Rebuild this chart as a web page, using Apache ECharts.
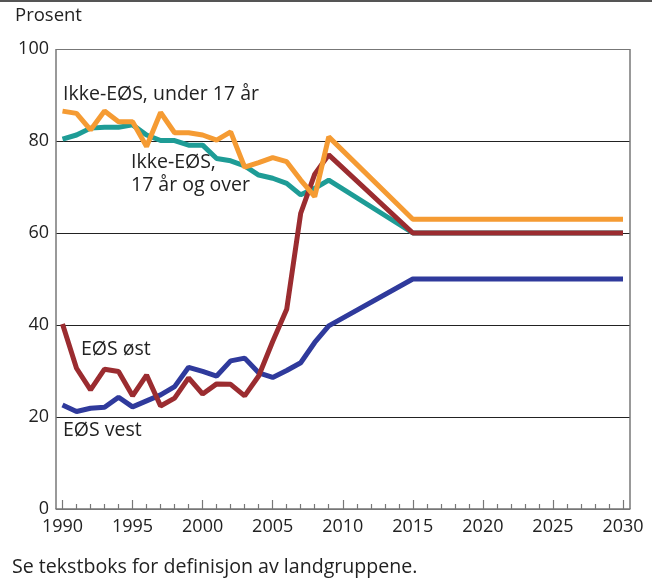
<!DOCTYPE html>
<html>
<head>
<meta charset="utf-8">
<script src="https://cdn.jsdelivr.net/npm/echarts@6/dist/echarts.min.js"></script>
<style>
  html, body { margin: 0; padding: 0; background: #fff; }
  #main { width: 658px; height: 581px; }
</style>
</head>
<body>
<div id="main"></div>
<script>
// data
var yearsHist = [1990, 1991, 1992, 1993, 1994, 1995, 1996, 1997, 1998, 1999,
  2000, 2001, 2002, 2003, 2004, 2005, 2006, 2007, 2008, 2009]
var yearsProj = [2015, 2030]

var ikkeUnder17 = [86.5, 86.0, 82.4, 86.5, 84.2, 84.2, 78.8, 86.2, 81.8, 81.8,
  81.3, 80.2, 82.0, 74.3, 75.3, 76.4, 75.5, 71.5, 67.9, 80.9]
var ikkeUnder17Proj = [63, 63]

var ikkeOver17 = [80.4, 81.3, 82.8, 83.0, 83.0, 83.5, 81.3, 80.1, 80.1, 79.1,
  79.1, 76.2, 75.7, 74.6, 72.6, 71.9, 70.8, 68.3, 69.7, 71.5]
var ikkeOver17Proj = [60, 60]

var eosOst = [40.2, 30.6, 25.9, 30.4, 29.9, 24.6, 29.1, 22.4, 24.1, 28.5,
  25.0, 27.2, 27.1, 24.6, 28.9, 36.4, 43.4, 64.3, 72.8, 77.0]
var eosOstProj = [60, 60]

var eosVest = [22.6, 21.2, 21.9, 22.1, 24.3, 22.2, 23.5, 24.8, 26.6, 30.8,
  29.9, 28.9, 32.2, 32.8, 29.6, 28.6, 30.1, 31.8, 36.2, 39.8]
var eosVestProj = [50, 50]

function pairs(hist, proj) {
  var out = yearsHist.map(function (y, i) { return [y, hist[i]] })
  yearsProj.forEach(function (y, i) { out.push([y, proj[i]]) })
  return out
}

var font = 'Open Sans'
var myChart = echarts.init(document.getElementById('main'), null, { renderer: 'canvas' })

function lineSeries(name, color, hist, proj) {
  return {
    name: name,
    type: 'line',
    xAxisIndex: 0,
    yAxisIndex: 0,
    showSymbol: false,
    symbol: 'none',
    lineStyle: { color: color, width: 5 },
    data: pairs(hist, proj)
  }
}

var option = {
  animation: false,
  backgroundColor: '#fff',
  textStyle: { fontFamily: font },
  grid: [
    // plot area for the lines
    { left: 62.5, right: 35, top: 49, bottom: 72, show: false },
    // outer frame with the y axis and gridlines
    { left: 56, right: 28, top: 49, bottom: 72, show: false }
  ],
  xAxis: [
    {
      gridIndex: 0,
      type: 'value',
      min: 1990,
      max: 2030,
      interval: 5,
      axisLine: { show: false },
      axisTick: { show: true, inside: true, length: 9, lineStyle: { color: '#777', width: 1.2 } },
      minorTick: { show: true, splitNumber: 5, length: 5, lineStyle: { color: '#777', width: 1.2 } },
      axisLabel: {
        color: '#222', fontSize: 18, fontFamily: font, margin: 9,
        formatter: function (v) { return String(v) }
      },
      splitLine: { show: false }
    },
    {
      gridIndex: 1,
      type: 'value',
      min: 0,
      max: 1,
      interval: 1,
      axisLine: { show: true, onZero: false, lineStyle: { color: '#777', width: 1.5 } },
      axisTick: { show: false },
      axisLabel: { show: false },
      splitLine: { show: true, lineStyle: { color: '#777', width: 1.5 } }
    }
  ],
  yAxis: [
    {
      gridIndex: 0,
      type: 'value',
      min: 0,
      max: 100,
      show: false
    },
    {
      gridIndex: 1,
      type: 'value',
      min: 0,
      max: 100,
      interval: 20,
      axisLine: { show: false },
      axisTick: { show: false },
      axisLabel: { color: '#222', fontSize: 18, fontFamily: font, margin: 7 },
      splitLine: { show: true, lineStyle: { color: ['#777', '#222', '#222', '#222', '#222', '#777'], width: 1 } }
    }
  ],
  series: [
    lineSeries('EØS vest', '#2f3a9c', eosVest, eosVestProj),
    lineSeries('Ikke-EØS, 17 år og over', '#1e9c96', ikkeOver17, ikkeOver17Proj),
    lineSeries('EØS øst', '#9b2c30', eosOst, eosOstProj),
    lineSeries('Ikke-EØS, under 17 år', '#f59b33', ikkeUnder17, ikkeUnder17Proj)
  ],
  graphic: [
    { type: 'line', shape: { x1: 0, y1: 1, x2: 652, y2: 1 }, style: { stroke: '#555', lineWidth: 2 } },
    { type: 'text', left: 15, top: 6, style: { text: 'Prosent', font: '18.5px "Open Sans"', fill: '#222' } },
    { type: 'text', left: 63, top: 84, style: { text: 'Ikke-EØS, under 17 år', font: '19.5px "Open Sans"', fill: '#222' } },
    { type: 'text', left: 131, top: 151, style: { text: 'Ikke-EØS,\n17 år og over', font: '19.5px "Open Sans"', lineHeight: 23, fill: '#222' } },
    { type: 'text', left: 81, top: 339, style: { text: 'EØS øst', font: '19.5px "Open Sans"', fill: '#222' } },
    { type: 'text', left: 63, top: 420, style: { text: 'EØS vest', font: '19.5px "Open Sans"', fill: '#222' } },
    { type: 'text', left: 12, top: 557, style: { text: 'Se tekstboks for definisjon av landgruppene.', font: '19.6px "Open Sans"', fill: '#222' } }
  ]
}

myChart.setOption(option)
</script>
</body>
</html>
